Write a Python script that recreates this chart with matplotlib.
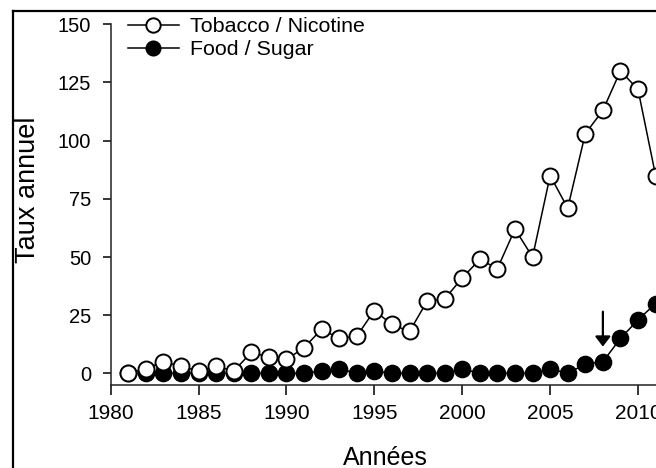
import matplotlib
matplotlib.use('Agg')
from matplotlib import pyplot as plt
from matplotlib.lines import Line2D
import numpy as np

plt.rcParams['font.family'] = ['Liberation Sans', 'DejaVu Sans']

years = np.arange(1981, 2012)
tobacco = [0, 2, 5, 3, 1, 3, 1, 9, 7, 6, 11, 19, 15, 16, 27, 21, 18, 31, 32,
           41, 49, 45, 62, 50, 85, 71, 103, 113, 130, 122, 85]
food = [0, 0, 0, 0, 0, 0, 0, 0, 0, 0, 0, 1, 2, 0, 1, 0, 0, 0, 0,
        2, 0, 0, 0, 0, 2, 0, 4, 5, 15, 23, 30]

x_ticks = [1980, 1985, 1990, 1995, 2000, 2005, 2010]
y_ticks = [0, 25, 50, 75, 100, 125, 150]

fig = plt.figure(figsize=(6.56, 4.68), dpi=100)
ax = fig.add_axes([110.7 / 656, 1 - 385 / 468, (660 - 110.7) / 656, (385 - 24.3) / 468])

ax.plot(years, food, color='k', lw=1.1, marker='o', ms=11.5,
        mfc='k', mec='k', mew=1.2, label='Food / Sugar', clip_on=False, zorder=3)
ax.plot(years, tobacco, color='k', lw=1.1, marker='o', ms=11.5,
        mfc='w', mec='k', mew=1.4, label='Tobacco / Nicotine', clip_on=False, zorder=4)

# flèche 2008
ax.annotate('', xy=(2008, 11.5), xytext=(2008, 26.5),
            arrowprops=dict(arrowstyle='-|>,head_length=0.3,head_width=0.23',
                            color='k', lw=1.6, mutation_scale=20, shrinkA=0, shrinkB=0))

ax.set_xlim(1980, 2011.25)
ax.set_ylim(-5, 150)
ax.set_xticks(x_ticks)
ax.set_yticks(y_ticks)

for s in ['top', 'right']:
    ax.spines[s].set_visible(False)
for s in ['left', 'bottom']:
    ax.spines[s].set_linewidth(1.1)
    ax.spines[s].set_color('#222222')

ax.tick_params(axis='x', direction='out', length=7, width=1.1, pad=7, labelsize=15)
ax.tick_params(axis='y', direction='out', length=6, width=1.1, pad=8, labelsize=14.5)

ax.set_ylabel('Taux annuel', fontsize=19.5)
ax.yaxis.set_label_coords(-0.127, 0.54)
ax.set_xlabel('Années', fontsize=18)
ax.xaxis.set_label_coords(0.5, -0.17)

handles, labels = ax.get_legend_handles_labels()
ax.legend(handles[::-1], labels[::-1], loc='upper left', bbox_to_anchor=(0.032, 1.02),
          frameon=False, fontsize=15.4, handlelength=2.35, handletextpad=0.55,
          labelspacing=0.2, borderpad=0, borderaxespad=0, markerscale=0.9)

# cadre extérieur
fig.add_artist(Line2D([13 / 656, 13 / 656], [0, 1 - 11 / 468], color='k', lw=1.6,
                      transform=fig.transFigure))
fig.add_artist(Line2D([13 / 656, 1], [1 - 11 / 468, 1 - 11 / 468], color='k', lw=1.6,
                      transform=fig.transFigure))

fig.savefig('out.png', dpi=100)
